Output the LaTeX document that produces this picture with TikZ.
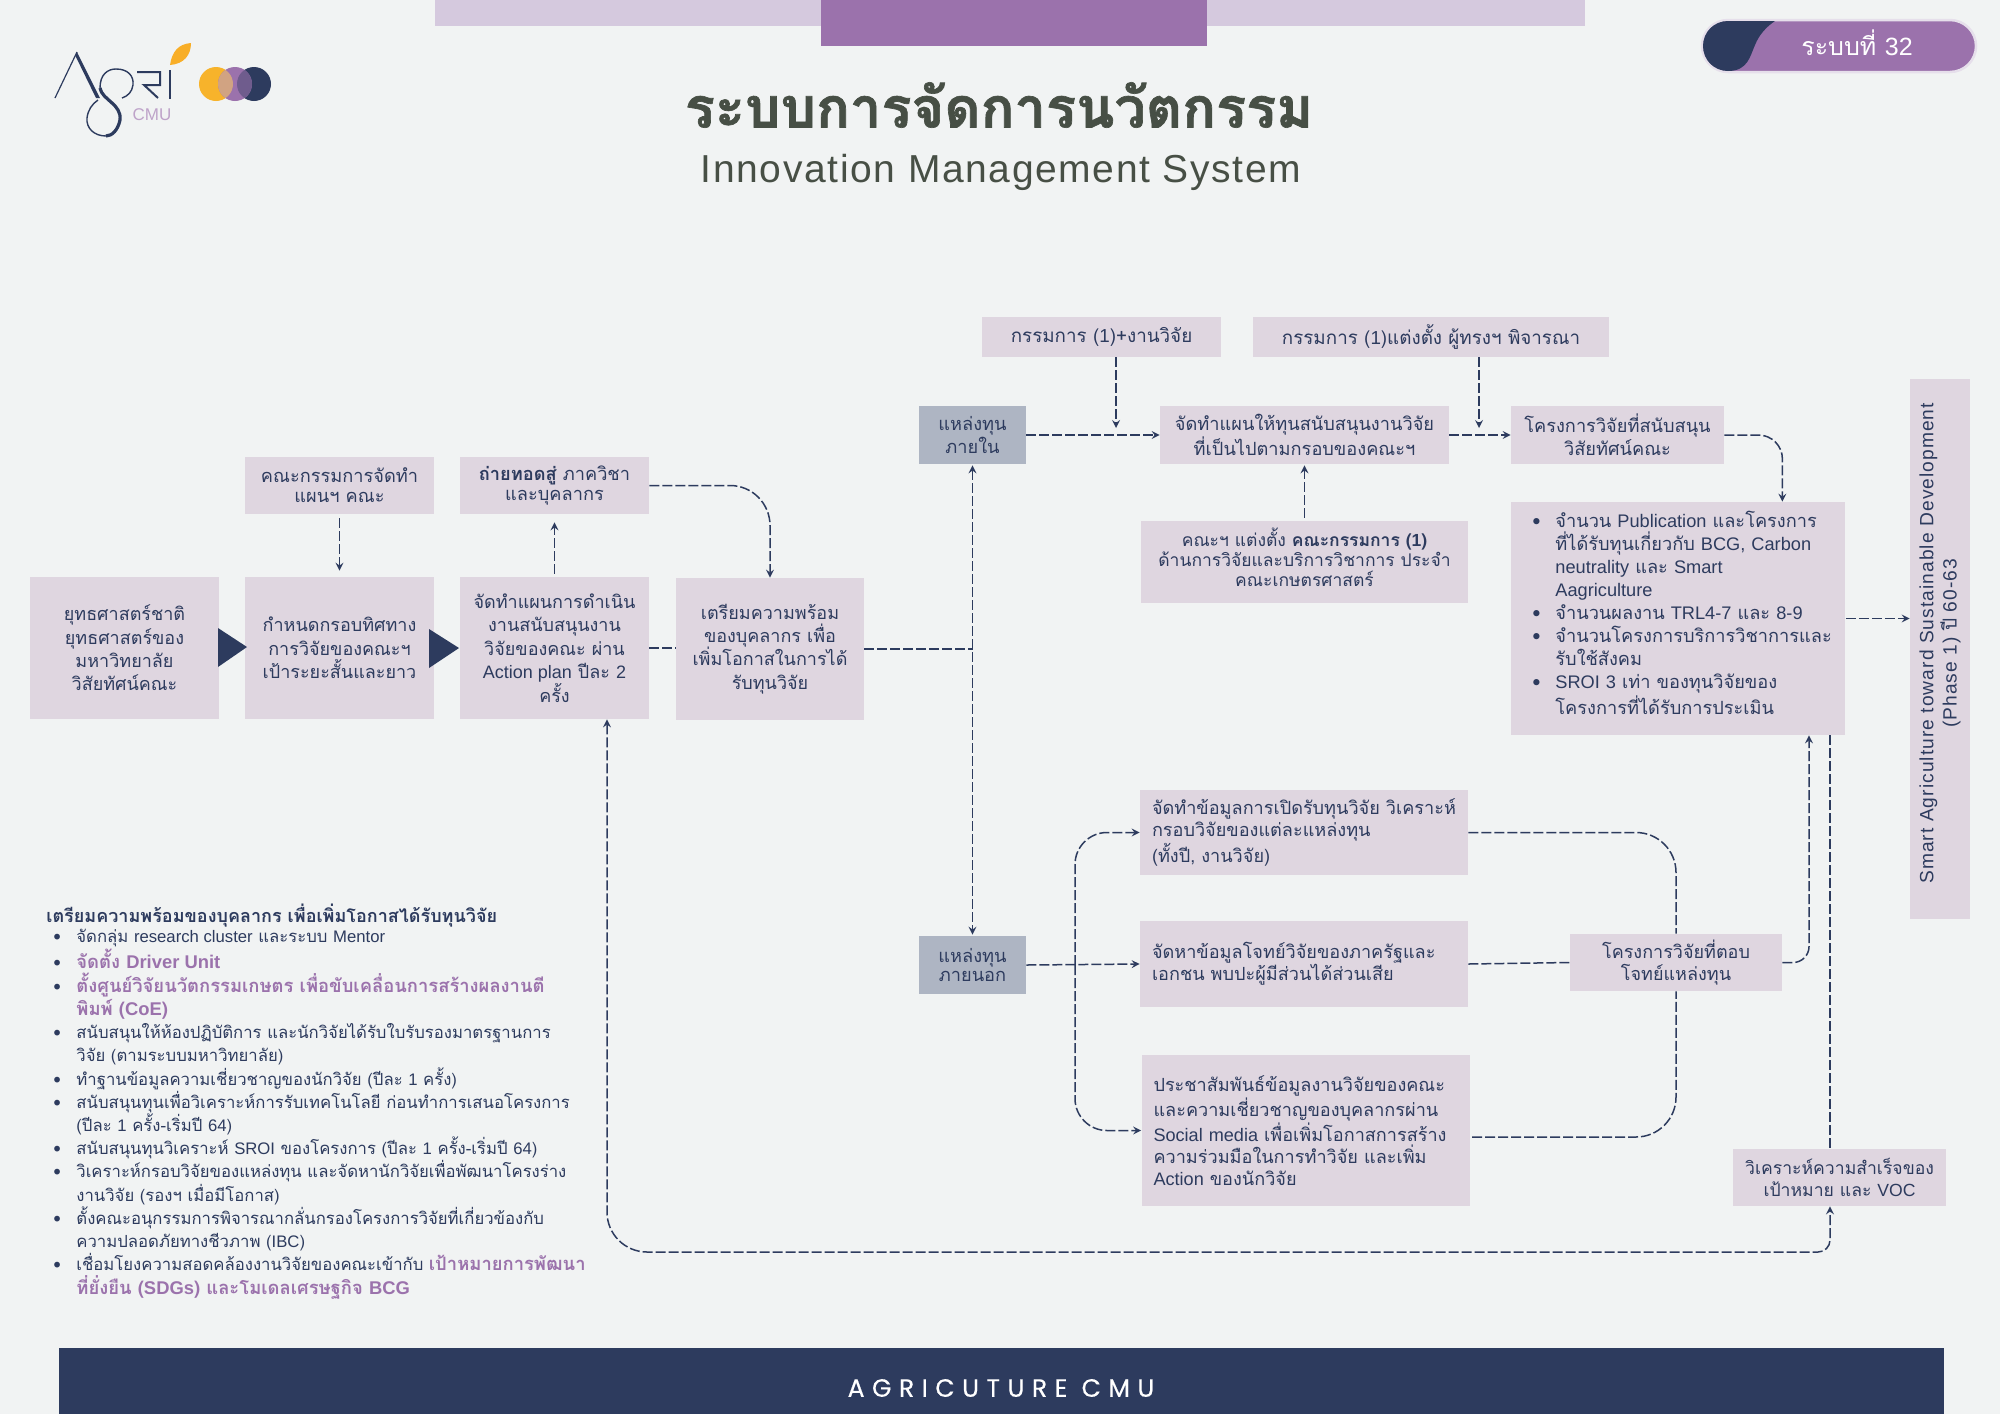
\documentclass[tikz,border=0pt]{standalone}
\usepackage{fontspec}
\setmainfont[Script=Thai]{Loma}
\newfontfamily\titlefont[Script=Thai, BoldFeatures={FakeBold=1.2}]{Loma}
\newfontfamily\enfont{Liberation Sans}
\newfontfamily\enwide[LetterSpace=4.2]{Liberation Sans}
\newfontfamily\engoal[LetterSpace=5.5]{Liberation Sans}
\newfontfamily\footfont[LetterSpace=30, FakeBold=.4]{Poppins}
\usetikzlibrary{shapes.geometric, arrows}
\definecolor{paper}{HTML}{F1F3F3}
\definecolor{navy}{HTML}{2D3B5E}
\definecolor{lilac}{HTML}{DFD6E0}
\definecolor{slate}{HTML}{AEB5C3}
\definecolor{band}{HTML}{D5C9DE}
\definecolor{violet}{HTML}{9B72AC}
\definecolor{moss}{HTML}{474F45}
\definecolor{amber}{HTML}{F7B32B}
\newcommand{\en}[1]{{\enfont #1}}
\newcommand{\bul}{\hspace*{3.5pt}\makebox[11.5pt][l]{\textbullet}}
\newcommand{\ind}{\hspace*{15pt}}
\newcommand{\hot}[1]{{\fontsize{9.2}{11.62}\selectfont\bfseries\textcolor{violet}{#1}}}
\tikzstyle{process} = [rectangle, fill=lilac, text=navy, inner sep=0pt, align=center, font=\fontsize{9}{11.7}\selectfont]
\tikzstyle{tight} = [font=\fontsize{9.1}{9.9}\selectfont]
\tikzstyle{source} = [process, tight, fill=slate]
\tikzstyle{panel} = [process, font=\fontsize{9.4}{10.2}\selectfont]
\tikzstyle{processl} = [process, align=left, inner xsep=6pt, text width=152pt, font=\fontsize{9.05}{10.9}\selectfont]
\tikzstyle{wh} = [minimum width=#1*.5pt]
\tikzstyle{ht} = [minimum height=#1*.5pt]
\tikzstyle{link} = [navy, line width=.75pt, dash pattern=on 5pt off 1.5pt]
\tikzstyle{arrow} = [link, ->, >=stealth]
\tikzstyle{arrowb} = [link, <->, >=stealth]
\begin{document}
\begin{tikzpicture}[x=.5pt, y=-.5pt]
    \useasboundingbox (0,0) rectangle (2000,1414);
    \fill [paper] (0,0) rectangle (2000,1414);

    \fill [band] (435,0) rectangle (1585,26);
    \fill [violet] (821,0) rectangle (1207,46);
    \fill [navy] (59,1348) rectangle (1944,1414);
    \node [text=white, font=\footfont\fontsize{12.5}{14}\selectfont] at (1001,1388) (foot) {AGRICUTURE CMU};

    \node [text=moss, font=\titlefont\bfseries\fontsize{28}{32}\selectfont] at (999,105) (title) {ระบบการจัดการนวัตกรรม};
    \node [text=moss, font=\enwide\fontsize{19.5}{23}\selectfont] at (1001,172) (subtitle) {Innovation Management System};

    \node [rectangle, rounded corners=13pt, fill=violet, draw=band!60, line width=1.25pt, minimum width=137pt, minimum height=26pt] at (1839,46) (pill) {};
    \fill [navy] (1775,21) -- (1728,21) .. controls (1714,21) and (1703,32) .. (1703,46) .. controls (1703,60) and (1714,71) .. (1728,71) .. controls (1748,71) and (1750,56) .. (1755,45) .. controls (1759,35) and (1766,27) .. (1775,21) -- cycle;
    \node [text=white, font=\fontsize{12.5}{14}\selectfont] at (1857,43) (pilltext) {ระบบที่ \en{32}};

    \draw [navy, line width=.6pt] (55,98) -- (77,52);
    \fill [navy] (77,52) -- (100,98) -- (96,98) -- (75.5,56) -- cycle;
    \draw [navy, line width=.7pt] (100,88) .. controls (100,74) and (108,69) .. (116,69) .. controls (128,69) and (134,76) .. (133,85) .. controls (132,92) and (128,96) .. (122,98);
    \draw [navy, line width=1.6pt] (100,88) .. controls (102,100) and (122,104) .. (120,120) .. controls (118,130) and (112,136) .. (106,136);
    \draw [navy, line width=.7pt] (106,136) .. controls (94,136) and (86,128) .. (87,118) .. controls (88,110) and (92,104) .. (98,100);
    \draw [navy, line width=1pt] (137,72) -- (160,72) -- (160,85) -- (144,85) -- (158,98);
    \draw [navy, line width=1pt] (170,70) -- (170,99);
    \fill [amber!90!orange] (170,65) .. controls (172,52) and (178,44) .. (191,43) .. controls (191,55) and (184,64) .. (170,65) -- cycle;
    \node [text=violet!65, font=\enfont\fontsize{8.5}{10}\selectfont] at (152,115) (cmu) {CMU};
    \fill [amber] (216,84) ellipse (17 and 17);
    \fill [navy] (254,84) ellipse (17 and 17);
    \fill [violet] (235,84) ellipse (17 and 17);
    \begin{scope}
        \clip (216,84) ellipse (17 and 17);
        \fill [amber!50!violet!85!white] (235,84) ellipse (17 and 17);
    \end{scope}
    \begin{scope}
        \clip (254,84) ellipse (17 and 17);
        \fill [violet!60!navy] (235,84) ellipse (17 and 17);
    \end{scope}

    \node [process, wh=189, ht=142] at (124.5,648) (process1) {ยุทธศาสตร์ชาติ\\ยุทธศาสตร์ของ\\มหาวิทยาลัย\\วิสัยทัศน์คณะ};
    \node [process, wh=189, ht=142] at (339.5,648) (process2) {กำหนดกรอบทิศทาง\\การวิจัยของคณะฯ\\เป้าระยะสั้นและยาว};
    \node [process, wh=189, ht=142] at (554.5,648) (process3) {จัดทำแผนการดำเนิน\\งานสนับสนุนงาน\\วิจัยของคณะ ผ่าน\\\en{Action plan} ปีละ \en{2}\\ครั้ง};
    \node [process, wh=188, ht=142] at (770,649) (process4) {เตรียมความพร้อม\\ของบุคลากร เพื่อ\\เพิ่มโอกาสในการได้\\รับทุนวิจัย};
    \node [process, tight, wh=189, ht=57] at (339.5,485.5) (process5) {คณะกรรมการจัดทำ\\แผนฯ คณะ};
    \node [process, tight, wh=189, ht=57] at (554.5,485.5) (process6) {\textbf{ถ่ายทอดสู่} ภาควิชา\\และบุคลากร};
    \fill [navy] (218,628) -- (247,647) -- (218,667) -- cycle;
    \fill [navy] (429,629) -- (459,648) -- (429,668) -- cycle;

    \node [panel, wh=239, ht=40] at (1101.5,337) (panel1) {กรรมการ (\en{1})+งานวิจัย};
    \node [panel, wh=356, ht=40] at (1431,337) (panel2) {กรรมการ (\en{1})แต่งตั้ง ผู้ทรงฯ พิจารณา};
    \node [source, wh=107, ht=58] at (972.5,435) (source1) {แหล่งทุน\\ภายใน};
    \node [source, wh=107, ht=58] at (972.5,965) (source2) {แหล่งทุน\\ภายนอก};
    \node [process, tight, wh=289, ht=58] at (1304.5,435) (process7) {จัดทำแผนให้ทุนสนับสนุนงานวิจัย\\ที่เป็นไปตามกรอบของคณะฯ};
    \node [process, tight, wh=213, ht=58] at (1617.5,435) (process8) {โครงการวิจัยที่สนับสนุน\\วิสัยทัศน์คณะ};
    \node [process, font=\fontsize{8.75}{10}\selectfont, wh=327, ht=82] at (1304.5,562) (panel3) {คณะฯ แต่งตั้ง \textbf{คณะกรรมการ (\en{1})}\\ด้านการวิจัยและบริการวิชาการ ประจำ\\คณะเกษตรศาสตร์\rule[-5pt]{0pt}{1pt}};
    \node [process, anchor=west, align=left, text width=153pt, inner xsep=7pt, minimum height=116.5pt, font=\fontsize{9.1}{11.55}\selectfont] at (1511,618.5) (result1) {\bul จำนวน \en{Publication} และโครงการ\\\ind ที่ได้รับทุนเกี่ยวกับ \en{BCG, Carbon}\\\ind \en{neutrality} และ \en{Smart}\\\ind \en{Aagriculture}\\\bul จำนวนผลงาน \en{TRL4-7} และ \en{8-9}\\\bul จำนวนโครงการบริการวิชาการและ\\\ind รับใช้สังคม\\\bul \en{SROI 3} เท่า ของทุนวิจัยของ\\\ind โครงการที่ได้รับการประเมิน\rule[-6pt]{0pt}{1pt}};
    \node [process, rotate=90, wh=540, ht=60, font=\engoal\fontsize{9.6}{11.7}\selectfont] at (1940,649) (goal1) {\hspace*{5.7pt}Smart Agriculture toward Sustainable Development\\\hspace*{5.7pt}(Phase 1) {\rmfamily ปี} 60-63};

    \node [processl, ht=85] at (1304,832.5) (process9) {จัดทำข้อมูลการเปิดรับทุนวิจัย วิเคราะห์\\กรอบวิจัยของแต่ละแหล่งทุน\\(ทั้งปี, งานวิจัย)};
    \node [processl, ht=86] at (1304,964) (process10) {จัดหาข้อมูลโจทย์วิจัยของภาครัฐและ\\เอกชน พบปะผู้มีส่วนได้ส่วนเสีย};
    \node [processl, ht=151] at (1305.5,1130.5) (process11) {ประชาสัมพันธ์ข้อมูลงานวิจัยของคณะ\\และความเชี่ยวชาญของบุคลากรผ่าน\\\en{Social media} เพื่อเพิ่มโอกาสการสร้าง\\ความร่วมมือในการทำวิจัย และเพิ่ม\\\en{Action} ของนักวิจัย};
    \node [process, font=\fontsize{9}{10.7}\selectfont, wh=212, ht=57] at (1676,962.5) (process12) {โครงการวิจัยที่ตอบ\\โจทย์แหล่งทุน};
    \node [process, font=\fontsize{8.8}{10.7}\selectfont, wh=213, ht=57] at (1839.5,1177.5) (process13) {วิเคราะห์ความสำเร็จของ\\เป้าหมาย และ \en{VOC}};

    \node [anchor=north west, inner sep=0pt, align=left, text=navy, font=\fontsize{8.35}{11.62}\selectfont] at (46,904) (note1) {{\fontsize{9}{11.62}\selectfont\bfseries เตรียมความพร้อมของบุคลากร เพื่อเพิ่มโอกาสได้รับทุนวิจัย}\\[-1.6pt]
        \bul จัดกลุ่ม \en{research cluster} และระบบ \en{Mentor}\\
        \bul \hot{จัดตั้ง \en{Driver Unit}}\\
        \bul \hot{ตั้งศูนย์วิจัยนวัตกรรมเกษตร เพื่อขับเคลื่อนการสร้างผลงานตี}\\
        \ind \hot{พิมพ์ (\en{CoE})}\\
        \bul สนับสนุนให้ห้องปฏิบัติการ และนักวิจัยได้รับใบรับรองมาตรฐานการ\\
        \ind วิจัย (ตามระบบมหาวิทยาลัย)\\
        \bul ทำฐานข้อมูลความเชี่ยวชาญของนักวิจัย (ปีละ \en{1} ครั้ง)\\
        \bul สนับสนุนทุนเพื่อวิเคราะห์การรับเทคโนโลยี ก่อนทำการเสนอโครงการ\\
        \ind (ปีละ \en{1} ครั้ง-เริ่มปี \en{64})\\
        \bul สนับสนุนทุนวิเคราะห์ \en{SROI} ของโครงการ (ปีละ \en{1} ครั้ง-เริ่มปี \en{64})\\
        \bul วิเคราะห์กรอบวิจัยของแหล่งทุน และจัดหานักวิจัยเพื่อพัฒนาโครงร่าง\\
        \ind งานวิจัย (รองฯ เมื่อมีโอกาส)\\
        \bul ตั้งคณะอนุกรรมการพิจารณากลั่นกรองโครงการวิจัยที่เกี่ยวข้องกับ\\
        \ind ความปลอดภัยทางชีวภาพ (\en{IBC})\\
        \bul เชื่อมโยงความสอดคล้องงานวิจัยของคณะเข้ากับ \hot{เป้าหมายการพัฒนา}\\
        \ind \hot{ที่ยั่งยืน (\en{SDGs}) และโมเดลเศรษฐกิจ \en{BCG}}};

    \coordinate (drop1) at (1116,428);
    \coordinate (drop2) at (1479,428);
    \coordinate (stem1) at (1075,965);
    \coordinate (stem3) at (1809,963);
    \coordinate (stem4) at (1830,735);
    \coordinate (exit1) at (1472,1137);
    \coordinate (base1) at (607,1252);
    \coordinate (base2) at (1830,1252);
    \coordinate (base3) at (1700,1252);

    \draw [arrow, shorten <=2pt, shorten >=3pt] (process5) -- (process2);
    \draw [arrow, shorten <=1.5pt, shorten >=4pt] (process3) -- (process6);
    \draw [arrow, rounded corners=20pt] (process6.east) -| (process4.north);
    \draw [link] (process3.east) -- (process3.east -| process4.west);
    \draw [link] (process4.east) -- (process4.east -| source1.south);
    \draw [arrowb, shorten <=.5pt, shorten >=.5pt] (source1) -- (source2);

    \draw [arrow] (source1.east) -- (process7.west);
    \draw [arrow] (panel1.south -| drop1) -- (drop1);
    \draw [arrow] (panel2.south -| drop2) -- (drop2);
    \draw [arrow] (process7.east) -- (process8.west);
    \draw [arrow, shorten <=1.5pt, shorten >=.5pt] (panel3) -- (process7);
    \draw [arrow, rounded corners=12pt] (process8.east) -| (result1.north -| process12.east);
    \draw [arrow] (result1.east) -- (result1.east -| goal1.north);

    \draw [arrow] (source2.east) -- (process10.west);
    \draw [arrow, rounded corners=16pt] (stem1) |- (process9.west);
    \draw [arrow, rounded corners=16pt] (stem1) |- (process11.west);
    \draw [link, rounded corners=20pt] (process9.east) -| (process12.north);
    \draw [link] (process10.east) -- (process12.west);
    \draw [link, rounded corners=20pt] (exit1) -| (process12.south);
    \draw [arrow, rounded corners=8pt] (process12.east) -| (result1.south -| stem3);
    \draw [link] (stem4) -- (process13.north -| stem4);
    \draw [arrowb] (process3.south -| base1) [rounded corners=20pt] -- (base1) -- (base3) [rounded corners=6pt] -- (base2) -- (process13.south -| base2);
\end{tikzpicture}
\end{document}
